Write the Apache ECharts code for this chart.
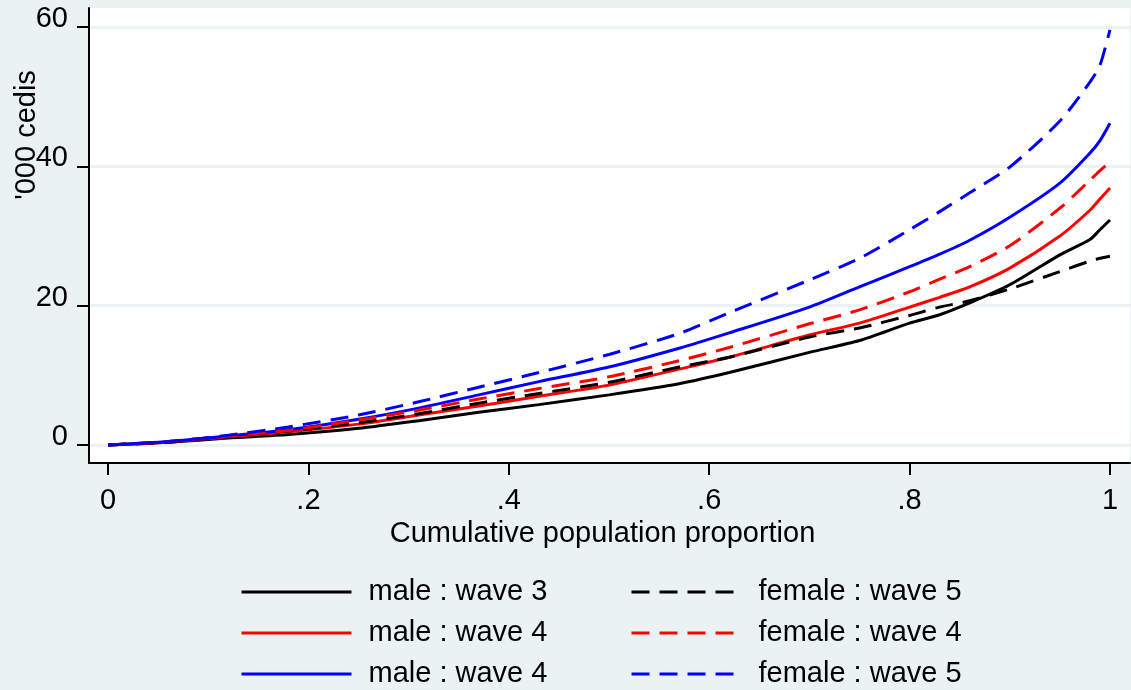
<!DOCTYPE html>
<html>
<head>
<meta charset="utf-8">
<script src="https://cdn.jsdelivr.net/npm/echarts@6/dist/echarts.min.js"></script>
<style>
html,body{margin:0;padding:0;background:#EAF2F3;}
#chart{width:1131px;height:690px;}
</style>
</head>
<body>
<div id="chart"></div>
<script>
// Cumulative population proportion (x)
const popShare = [0, 0.06, 0.12, 0.18, 0.25, 0.31, 0.37, 0.43, 0.5, 0.57, 0.62, 0.7, 0.75, 0.8, 0.83, 0.86, 0.9, 0.95, 0.98, 0.99, 1];
// Generalized Lorenz ordinates, '000 cedis
const maleW3Black   = [0, 0.4, 1.0, 1.5, 2.4, 3.5, 4.7, 5.8, 7.2, 8.8, 10.4, 13.3, 15.0, 17.5, 18.7, 20.4, 23.0, 27.3, 29.5, 30.9, 32.3];
const maleW4Red     = [0, 0.4, 1.2, 1.9, 3.0, 4.3, 5.6, 7.0, 8.6, 10.9, 12.6, 15.8, 17.5, 19.8, 21.2, 22.7, 25.4, 30.0, 33.7, 35.3, 36.9];
const maleW4Blue    = [0, 0.5, 1.3, 2.2, 3.7, 5.3, 7.2, 9.1, 11.2, 13.9, 16.1, 19.8, 22.7, 25.6, 27.4, 29.4, 32.7, 37.6, 41.9, 43.7, 46.2];
const femaleW5Black = [0, 0.4, 1.3, 2.0, 3.2, 4.5, 6.0, 7.4, 9.0, 11.2, 12.6, 15.5, 16.8, 18.6, 19.8, 20.7, 22.4, 24.9, 26.4, 26.8, 27.1];
const femaleW4Red   = [0, 0.5, 1.3, 2.1, 3.6, 5.0, 6.6, 8.1, 9.8, 12.1, 14.0, 17.4, 19.4, 22.0, 23.8, 25.6, 28.6, 34.0, 38.0, 39.4, 40.6];
const femaleW5Blue  = [0, 0.5, 1.4, 2.6, 4.3, 6.2, 8.3, 10.4, 13.0, 16.0, 19.0, 23.7, 26.8, 30.9, 33.5, 36.2, 39.9, 46.5, 52.1, 54.5, 59.6];

const xTicks = [0, 0.2, 0.4, 0.6, 0.8, 1];
const yTicks = [0, 20, 40, 60];
const seriesNames = ['male : wave 3', 'male : wave 4', 'male : wave 4|b', 'female : wave 5', 'female : wave 4', 'female : wave 5|b'];
const xTitle = 'Cumulative population proportion';
const yTitle = "'000 cedis";

const FONT = 'Liberation Sans, Arial, sans-serif';
const FS = 29;

function pairs(ys){ return popShare.map((x,i)=>[x, ys[i]]); }
const dash = [18, 10];
function mk(name, ys, color, type){
  return {
    name: name, type: 'line', data: pairs(ys),
    showSymbol: false, symbol: 'none', smooth: 0.25,
    lineStyle: {color: color, width: 3, type: type},
    itemStyle: {color: color},
    emphasis: {disabled: true}
  };
}
const chart = echarts.init(document.getElementById('chart'));
const legendText = {fontSize: FS, fontFamily: FONT, color: '#000', padding: [0,0,0,12], lineHeight: 30};
const legendBase = {orient: 'vertical', top: 577, padding: 0, itemWidth: 110, itemHeight: 14, itemGap: 11,
  selectedMode: false, textStyle: legendText, itemStyle: {opacity: 0}, lineStyle: {width: 3},
  formatter: n => n.split('|')[0]};
chart.setOption({
  backgroundColor: '#EAF2F3',
  animation: false,
  grid: {left: 89, top: 8, right: 1, bottom: 227, show: true, backgroundColor: '#fff', borderWidth: 0},
  xAxis: {
    type: 'value', min: -0.019, max: 1.02,
    axisLine: {show: true, onZero: false, lineStyle: {color: '#000', width: 2}},
    axisTick: {show: true, length: 12, customValues: xTicks, lineStyle: {color: '#000', width: 2}},
    axisLabel: {customValues: xTicks, margin: 23, fontSize: FS, fontFamily: FONT, color: '#000',
      formatter: v => (v === 0 ? '0' : v === 1 ? '1' : String(v).replace(/^0/, ''))},
    splitLine: {show: false},
    name: xTitle, nameLocation: 'middle', nameGap: 45,
    nameTextStyle: {fontSize: FS, fontFamily: FONT, color: '#000', padding: [0, 14, 0, 0]}
  },
  yAxis: {
    type: 'value', min: -2.58, max: 62.73,
    axisLine: {show: true, onZero: false, lineStyle: {color: '#000', width: 2}},
    axisTick: {show: true, length: 12, customValues: yTicks, lineStyle: {color: '#000', width: 2}},
    axisLabel: {customValues: yTicks, margin: 21, fontSize: FS, fontFamily: FONT, color: '#000',
      verticalAlign: 'bottom', lineHeight: 16},
    splitLine: {show: true, lineStyle: {color: '#EAF2F3', width: 3}}
  },
  legend: [
    Object.assign({left: 240, data: seriesNames.slice(0,3)}, legendBase),
    Object.assign({left: 630, data: seriesNames.slice(3)}, legendBase)
  ],
  graphic: [
    {type: 'text', x: 27, y: 135, rotation: Math.PI/2,
     style: {text: yTitle, fontSize: FS, fontFamily: FONT, fill: '#000', align: 'center', verticalAlign: 'middle'}}
  ],
  series: [
    mk(seriesNames[0], maleW3Black, '#000000', 'solid'),
    mk(seriesNames[1], maleW4Red, '#FF0000', 'solid'),
    mk(seriesNames[2], maleW4Blue, '#0000FF', 'solid'),
    mk(seriesNames[3], femaleW5Black, '#000000', dash),
    mk(seriesNames[4], femaleW4Red, '#FF0000', dash),
    mk(seriesNames[5], femaleW5Blue, '#0000FF', dash)
  ]
});
</script>
</body>
</html>
